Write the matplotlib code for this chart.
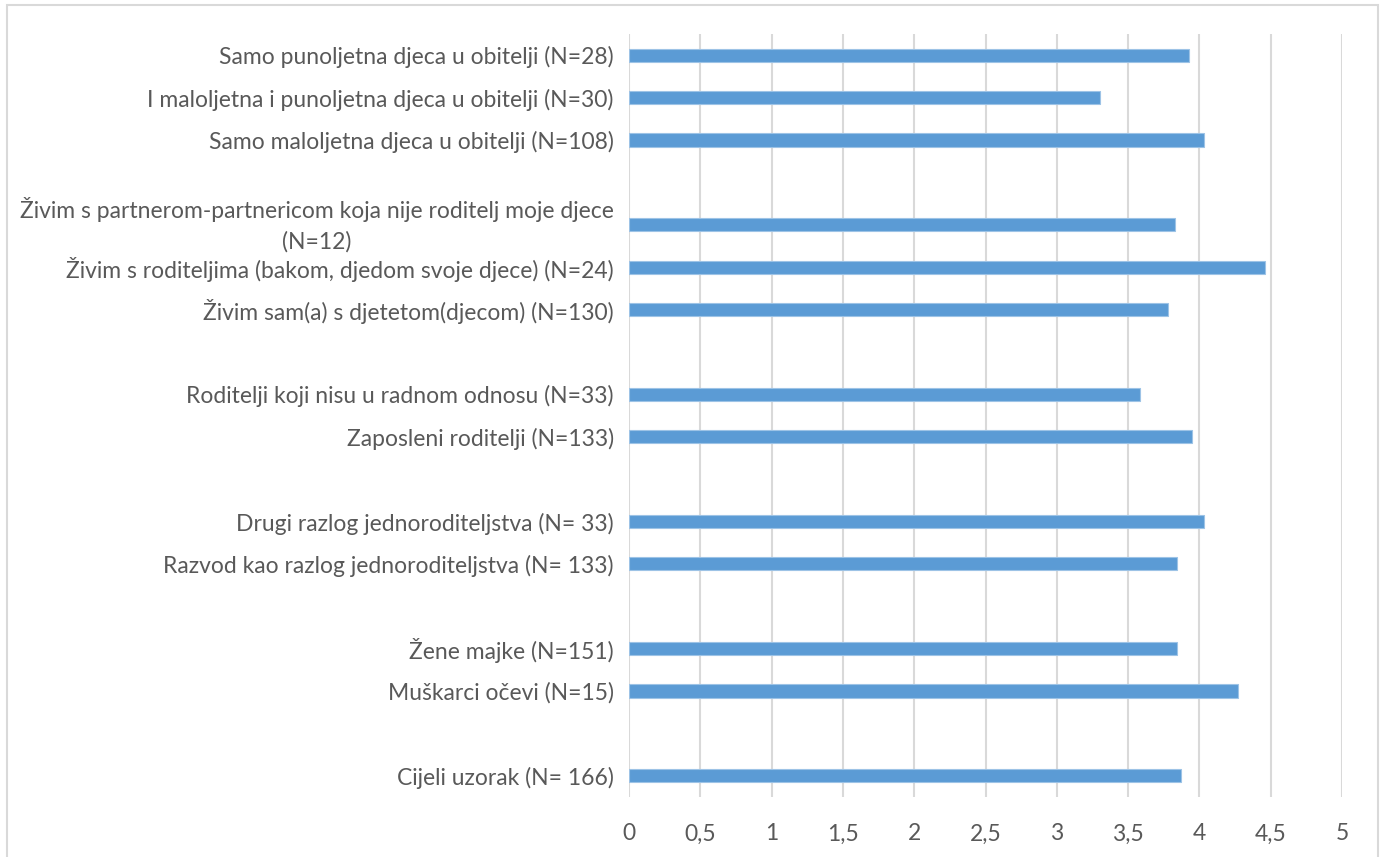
import numpy as np
import matplotlib
matplotlib.use("Agg")
import matplotlib.pyplot as plt
from matplotlib.patches import Rectangle
from matplotlib.ticker import FuncFormatter
from matplotlib.transforms import ScaledTranslation

# Categories from top to bottom; empty strings are spacer rows
categories = [
    "Samo punoljetna djeca u obitelji (N=28)",
    "I maloljetna i punoljetna djeca u obitelji (N=30)",
    "Samo maloljetna djeca u obitelji (N=108)",
    "",
    "Živim s partnerom-partnericom koja nije roditelj moje djece\n(N=12)",
    "Živim s roditeljima (bakom, djedom svoje djece) (N=24)",
    "Živim sam(a) s djetetom(djecom) (N=130)",
    "",
    "Roditelji koji nisu u radnom odnosu (N=33)",
    "Zaposleni roditelji (N=133)",
    "",
    "Drugi razlog jednoroditeljstva (N= 33)",
    "Razvod kao razlog jednoroditeljstva (N= 133)",
    "",
    "Žene majke (N=151)",
    "Muškarci očevi (N=15)",
    "",
    "Cijeli uzorak (N= 166)",
]
values = [3.93, 3.30, 4.03, np.nan, 3.83, 4.46, 3.78, np.nan,
          3.58, 3.95, np.nan, 4.03, 3.84, np.nan, 3.84, 4.27, np.nan, 3.87]
x_ticks = [0, 0.5, 1, 1.5, 2, 2.5, 3, 3.5, 4, 4.5, 5]

plt.rcParams['font.family'] = ['Lato', 'DejaVu Sans']

W, H = 1383, 857
fig = plt.figure(figsize=(W / 100, H / 100), dpi=100)
fig.patch.set_facecolor("white")

# outer chart frame
fig.patches.append(Rectangle((6.5 / W, -0.05), (1377.5 - 6.5) / W, 1.05 - 5 / H,
                             transform=fig.transFigure, fill=False,
                             edgecolor="#D9D9D9", linewidth=1.5, zorder=0))

ax = fig.add_axes([629 / W, 1 - 797 / H, (1342 - 629) / W, (797 - 34) / H])

n = len(categories)
ypos = np.arange(n)
mask = ~np.isnan(values)
vals = np.array(values)
ax.barh(ypos[mask], vals[mask], height=0.31, color="#5B9BD5",
        edgecolor="#9DC3E6", linewidth=0.8, zorder=3)

ax.set_ylim(n - 0.5, -0.5)
ax.set_xlim(0, 5)
ax.set_yticks(ypos[mask])
ax.set_yticklabels([c for c, m in zip(categories, mask) if m],
                   multialignment="center", linespacing=1.5)
for lbl in ax.get_yticklabels():
    if "\n" in lbl.get_text():
        lbl.set_verticalalignment("center")
        lbl.set_transform(lbl.get_transform() + ScaledTranslation(0, 3 / 100, fig.dpi_scale_trans))
ax.set_xticks(x_ticks)
ax.xaxis.set_major_formatter(FuncFormatter(lambda v, p: ("%g" % v).replace(".", ",")))

ax.tick_params(axis="both", length=0, labelsize=16.5, labelcolor="#595959")
ax.tick_params(axis="y", pad=11)
ax.tick_params(axis="x", pad=19)

ax.grid(axis="x", color="#D9D9D9", linewidth=1.5, zorder=0)
ax.set_axisbelow(True)
for s in ax.spines.values():
    s.set_visible(False)

fig.savefig("out.png", dpi=100)
